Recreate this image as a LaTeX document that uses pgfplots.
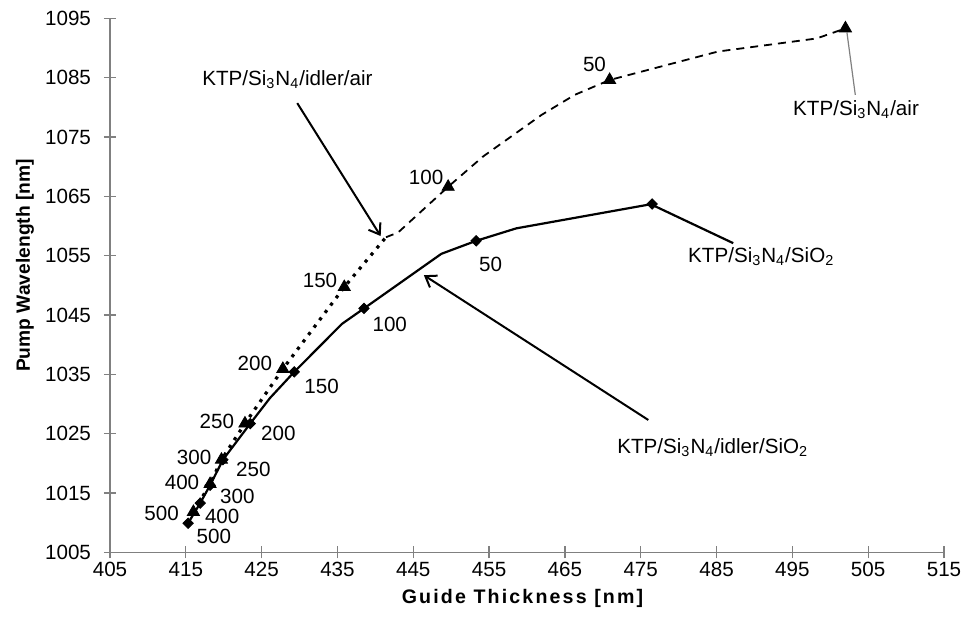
\documentclass[border=0pt]{standalone}
\usepackage{fontspec}
\setmainfont{Liberation Sans}
\usepackage{pgfplots}
\pgfplotsset{compat=1.18}
\usetikzlibrary{arrows.meta}

% KTP/Si3N4/SiO2 : diamond markers
\pgfplotstableread{
x y
476.5 1063.7
453.3 1057.5
438.5 1046.1
429.3 1035.4
423.5 1026.7
419.9 1020.6
418.2 1016.3
416.9 1013.3
415.3 1009.9
}\sio
% KTP/Si3N4/idler/SiO2 : solid line
\pgfplotstableread{
x y
415.3 1009.9
416.9 1013.3
418.2 1016.3
419.9 1020.6
423.5 1026.7
426.1 1031.0
429.3 1035.4
435.6 1043.5
438.5 1046.1
448.7 1055.3
453.3 1057.5
458.6 1059.6
476.5 1063.7
}\idlersio
% KTP/Si3N4/air : triangle markers
\pgfplotstableread{
x y
502.0 1093.3
470.9 1084.6
449.6 1066.6
435.9 1049.7
427.8 1035.9
422.8 1026.7
419.7 1020.6
418.2 1016.5
416.0 1011.8
}\air
% KTP/Si3N4/idler/air : dashed line (lower part)
\pgfplotstableread{
x y
416.0 1011.8
418.2 1016.5
419.7 1020.6
422.8 1026.7
427.8 1035.9
435.9 1049.7
441.4 1058.1
}\idlerairlow
% upper part
\pgfplotstableread{
x y
441.4 1058.1
443.0 1058.9
449.6 1066.6
454.2 1071.7
461.9 1078.7
466.3 1082.1
470.9 1084.6
485.2 1089.4
498.2 1091.6
502.0 1093.3
}\idlerairup

\newcommand{\lab}{\fontsize{10.3}{12}\selectfont}

\begin{document}
\begin{tikzpicture}
\begin{axis}[
  name=ax,
  scale only axis,
  width=417pt, height=267pt,
  xmin=405, xmax=515, ymin=1005, ymax=1095,
  xtick={405,415,...,515},
  ytick={1005,1015,...,1095},
  axis x line=bottom, axis y line=left,
  axis line style={gray, line width=0.6pt, -},
  every tick/.style={gray, line width=0.6pt},
  tick align=center,
  major tick length=6pt,
  tick label style={font=\lab},
  /pgf/number format/assume math mode=true,
  /pgf/number format/1000 sep={},
  yticklabel style={xshift=-3pt},
  xticklabel style={yshift=1.5pt},
  xlabel={\fontsize{9.8}{11}\selectfont\addfontfeature{LetterSpace=11}\bfseries Guide Thickness [nm]},
  ylabel={\fontsize{9.6}{11}\selectfont\bfseries Pump Wavelength [nm]},
  xlabel style={at={(axis description cs:0.4946,-0.0856)}, anchor=center},
  ylabel style={at={(axis description cs:-0.1019,0.537)}, anchor=center, rotate=0},
  clip=false,
]
% lines
\addplot[black, line width=1.1pt, mark=none] table[x=x,y=y]{\idlersio};
\addplot[black, line width=1.6pt, dash pattern=on 1.6pt off 3pt, mark=none] table[x=x,y=y]{\idlerairlow};
\addplot[black, line width=0.9pt, dash pattern=on 4pt off 3pt, mark=none] table[x=x,y=y]{\idlerairup};
% markers
\addplot[only marks, mark=diamond*, mark size=2.6pt, mark options={black, xscale=1.33}] table[x=x,y=y]{\sio};
\addplot[only marks, mark=triangle*, mark size=3.5pt, mark options={black}] table[x=x,y=y]{\air};

% arrows and labels
\draw[black, line width=1pt, -{Straight Barb[length=5pt,width=7pt]}] (axis cs:429.7,1080.7) -- (axis cs:440.7,1058.3);
\draw[gray, line width=0.6pt] (axis cs:503.3,1082.1) -- (axis cs:502.2,1092.6);
\draw[black, line width=1.1pt] (axis cs:476.6,1063.5) -- (axis cs:487.2,1057.1);
\draw[black, line width=1pt, -{Straight Barb[length=5pt,width=7pt]}] (axis cs:476.0,1027.3) -- (axis cs:446.4,1051.7);

\node[font=\lab] at (axis cs:428.4,1084.6) {KTP/Si\textsubscript{3}N\textsubscript{4}/idler/air};
\node[font=\lab] at (axis cs:503.4,1079.6) {KTP/Si\textsubscript{3}N\textsubscript{4}/air};
\node[font=\lab] at (axis cs:490.9,1054.8) {KTP/Si\textsubscript{3}N\textsubscript{4}/SiO\textsubscript{2}};
\node[font=\lab] at (axis cs:484.5,1022.7) {KTP/Si\textsubscript{3}N\textsubscript{4}/idler/SiO\textsubscript{2}};

% air labels
\node[font=\lab] at (axis cs:468.9,1087.2) {50};
\node[font=\lab] at (axis cs:446.7,1068.1) {100};
\node[font=\lab] at (axis cs:432.7,1050.8) {150};
\node[font=\lab] at (axis cs:424.1,1036.8) {200};
\node[font=\lab] at (axis cs:419.1,1027.1) {250};
\node[font=\lab] at (axis cs:416.1,1021.0) {300};
\node[font=\lab] at (axis cs:414.5,1016.7) {400};
\node[font=\lab] at (axis cs:411.8,1011.6) {500};
% SiO2 labels
\node[font=\lab] at (axis cs:455.2,1053.6) {50};
\node[font=\lab] at (axis cs:441.9,1043.4) {100};
\node[font=\lab] at (axis cs:432.9,1032.9) {150};
\node[font=\lab] at (axis cs:427.2,1025.1) {200};
\node[font=\lab] at (axis cs:423.9,1019.0) {250};
\node[font=\lab] at (axis cs:421.8,1014.4) {300};
\node[font=\lab] at (axis cs:419.8,1011.1) {400};
\node[font=\lab] at (axis cs:418.7,1007.7) {500};
\end{axis}
\pgfresetboundingbox
\path ([shift={(-55pt,-33.35pt)}]ax.south west) rectangle ([shift={(11pt,9.15pt)}]ax.north east);
\end{tikzpicture}
\end{document}
